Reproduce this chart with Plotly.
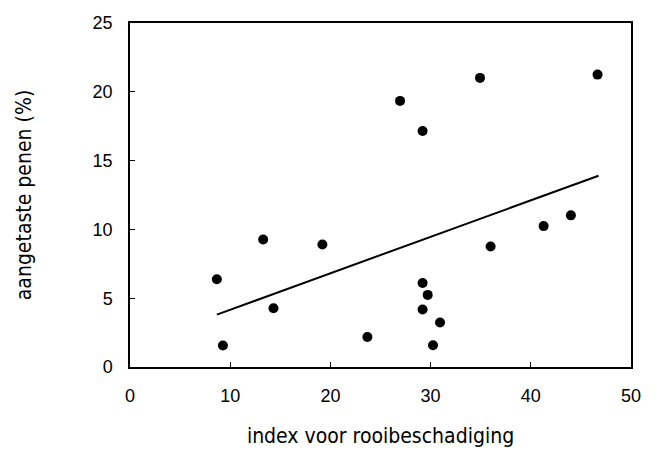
import plotly.graph_objects as go

x_vals = [26.95, 29.2, 34.93, 46.66, 8.67, 9.27, 13.29, 14.32, 19.2, 23.69,
          29.2, 29.71, 29.2, 30.94, 30.24, 35.99, 41.28, 44.0]
y_vals = [19.34, 17.15, 21.01, 21.25, 6.38, 1.56, 9.27, 4.27, 8.9, 2.18,
          6.11, 5.24, 4.18, 3.23, 1.58, 8.76, 10.24, 11.02]
trend_x = [8.67, 46.76]
trend_y = [3.81, 13.9]
x_ticks = [0, 10, 20, 30, 40, 50]
y_ticks = [0, 5, 10, 15, 20, 25]

tick_font = dict(family="Liberation Sans, Arial, sans-serif", size=18, color="black")
title_font = dict(family="DejaVu Sans Condensed, Liberation Sans, sans-serif", size=21, color="black")

fig = go.Figure()
fig.add_trace(go.Scatter(x=x_vals, y=y_vals, mode="markers",
                         marker=dict(color="black", size=10), showlegend=False))
fig.add_trace(go.Scatter(x=trend_x, y=trend_y, mode="lines",
                         line=dict(color="black", width=2), showlegend=False))

fig.update_layout(
    width=666, height=450,
    margin=dict(l=130, r=35, t=23, b=83),
    plot_bgcolor="white", paper_bgcolor="white",
    font=dict(family="Liberation Sans, Arial, sans-serif", size=18, color="black"),
)
fig.update_xaxes(range=[0, 50], tickvals=x_ticks, ticks="inside", ticklen=5,
                 tickcolor="black", showline=True, linecolor="black", linewidth=1.5,
                 mirror=True, showgrid=False, zeroline=False, automargin=False,
                 tickfont=tick_font,
                 title=dict(text="index voor rooibeschadiging", font=title_font, standoff=23),
                 ticklabelstandoff=12)
fig.update_yaxes(range=[0, 25], tickvals=y_ticks, ticks="inside", ticklen=5,
                 tickcolor="black", showline=True, linecolor="black", linewidth=1.5,
                 mirror=True, showgrid=False, zeroline=False, automargin=False,
                 tickfont=tick_font,
                 title=dict(text="aangetaste penen (%)", font=title_font, standoff=55),
                 ticklabelstandoff=12)

fig.write_html("out.html")
